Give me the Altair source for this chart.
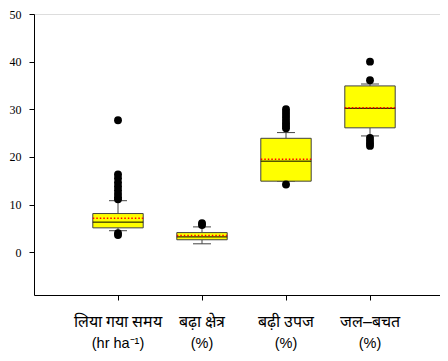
import altair as alt
import pandas as pd

# ---- data ----
line1 = ["लिया गया समय", "बढ़ा क्षेत्र", "बढ़ी उपज", "जल–बचत"]
line2 = ["(hr ha⁻¹)", "(%)", "(%)", "(%)"]
positions = [1, 2, 3, 4]
q1 = [5.1, 2.6, 14.9, 26.1]
q3 = [8.1, 4.1, 23.9, 34.9]
median = [6.3, 3.2, 19.1, 30.2]
mean = [7.1, 3.5, 19.5, 30.3]
whisk_lo = [4.5, 1.75, 14.9, 24.4]
whisk_hi = [10.8, 5.3, 25.1, 35.3]

out_pos = [1]*11 + [2]*2 + [3]*9 + [4]*6
out_val = [27.7, 16.3, 15.5, 14.6, 13.8, 13.0, 12.2, 11.5, 11.1, 4.0, 3.6,
           5.7, 6.1,
           30.0, 29.4, 28.8, 28.2, 27.6, 27.0, 26.5, 26.0, 14.2,
           40.0, 36.1, 24.0, 23.4, 22.8, 22.3]

boxes = pd.DataFrame({"pos": positions, "q1": q1, "q3": q3, "median": median,
                      "mean": mean, "lo": whisk_lo, "hi": whisk_hi,
                      "l1": line1, "l2": line2})
outs = pd.DataFrame({"pos": out_pos, "val": out_val})

W, H = 406, 281
HALF_BOX = 0.30
HALF_CAP = 0.107

xscale = alt.Scale(domain=[0, W / 84], nice=False, zero=False)
yscale = alt.Scale(domain=[-9, 50], nice=False, zero=False)

xaxis = alt.Axis(values=positions, title=None, grid=False, labels=False,
                 tickColor="black", domainColor="black", tickSize=5)
yaxis = alt.Axis(values=[0, 10, 20, 30, 40, 50], title=None, grid=False,
                 labelFont="Liberation Serif", labelFontSize=12, labelColor="black",
                 tickColor="black", domainColor="black", tickSize=5, labelPadding=8)

base = alt.Chart(boxes).transform_calculate(
    xl=f"datum.pos - {HALF_BOX}", xr=f"datum.pos + {HALF_BOX}",
    cl=f"datum.pos - {HALF_CAP}", cr=f"datum.pos + {HALF_CAP}")

whisk_up = base.mark_rule(color="#444444", strokeWidth=1).encode(
    x=alt.X("pos:Q", scale=xscale, axis=xaxis),
    y=alt.Y("q3:Q", scale=yscale, axis=yaxis), y2="hi:Q")
whisk_dn = base.mark_rule(color="#444444", strokeWidth=1).encode(
    x="pos:Q", y="lo:Q", y2="q1:Q")
cap_hi = base.mark_rule(color="#444444", strokeWidth=1).encode(
    x="cl:Q", x2="cr:Q", y="hi:Q")
cap_lo = base.mark_rule(color="#444444", strokeWidth=1).encode(
    x="cl:Q", x2="cr:Q", y="lo:Q")
box = base.mark_rect(fill="#FFFF00", stroke="#404040", strokeWidth=1).encode(
    x="xl:Q", x2="xr:Q", y="q1:Q", y2="q3:Q")
med = base.mark_rule(color="black", strokeWidth=1).encode(
    x="xl:Q", x2="xr:Q", y="median:Q")
mn = base.mark_rule(color="#FF0000", strokeWidth=1.5, strokeDash=[1.5, 2]).encode(
    x="xl:Q", x2="xr:Q", y="mean:Q")
pts = alt.Chart(outs).mark_circle(color="black", opacity=1, size=62).encode(
    x="pos:Q", y="val:Q")

lab1 = alt.Chart(boxes).mark_text(font="Liberation Sans", fontSize=16, color="black",
                                  baseline="middle", align="center").encode(
    x="pos:Q", y=alt.value(H + 27), text="l1:N")
lab2 = alt.Chart(boxes).mark_text(font="Liberation Sans", fontSize=14.5, color="black",
                                  baseline="middle", align="center").encode(
    x="pos:Q", y=alt.value(H + 49), text="l2:N")

chart = alt.layer(whisk_up, whisk_dn, cap_hi, cap_lo, box, med, mn, pts, lab1, lab2).properties(
    width=W, height=H,
    padding={"left": 1, "top": 0, "right": 0, "bottom": 0}
).configure_view(stroke=None).configure(background="white")

chart.save("out.html", embed_options={"renderer": "svg", "actions": False})
